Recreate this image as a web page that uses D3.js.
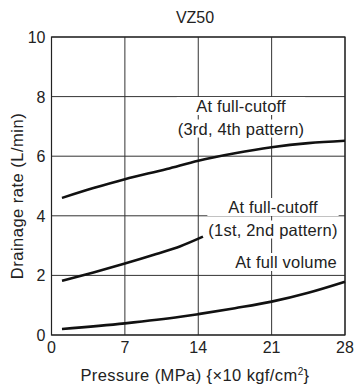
<!DOCTYPE html>
<html lang="en">
<head>
<meta charset="UTF-8">
<title>VZ50 drainage rate</title>
<script src="https://d3js.org/d3.v7.min.js"></script>
<style type="text/css">
    body { margin: 0; background: white; }
    text { font-family: "Liberation Sans", Arial, sans-serif; fill: #222; }
</style>
</head>
<body>
<script type="text/javascript">

// pressure ticks (MPa) and drainage ticks (L/min)
const xTicks = [0, 7, 14, 21, 28];
const yTicks = [0, 2, 4, 6, 8, 10];

// curves
const cutoff34P = [1, 4, 7, 11, 14, 17.5, 21, 24.5, 28];
const cutoff34Q = [4.6, 4.93, 5.23, 5.57, 5.85, 6.1, 6.3, 6.44, 6.52];

const cutoff12P = [1, 4, 7, 10, 12.3, 14.45];
const cutoff12Q = [1.82, 2.1, 2.4, 2.72, 2.98, 3.3];

const fullVolP = [1, 7, 12.3, 14, 17.5, 21, 24.5, 28];
const fullVolQ = [0.2, 0.39, 0.61, 0.7, 0.9, 1.12, 1.42, 1.79];

const width = 355, height = 385;
const margin = {top: 37, right: 10, bottom: 50, left: 51.5};

const svg = d3.select("body").append("svg")
    .attr("width", width)
    .attr("height", height);

const x = d3.scaleLinear().domain([0, 28]).range([margin.left, width - margin.right]);
const y = d3.scaleLinear().domain([0, 10]).range([height - margin.bottom, margin.top]);

// grid
svg.append("g").selectAll("line")
    .data(yTicks)
    .enter().append("line")
    .attr("x1", x(0)).attr("x2", x(28))
    .attr("y1", d => y(d)).attr("y2", d => y(d))
    .attr("stroke", "#333").attr("stroke-width", 1);

svg.append("g").selectAll("line")
    .data(xTicks)
    .enter().append("line")
    .attr("y1", y(0)).attr("y2", y(10))
    .attr("x1", d => x(d)).attr("x2", d => x(d))
    .attr("stroke", "#333").attr("stroke-width", 1);

svg.append("rect")
    .attr("x", x(0)).attr("y", y(10))
    .attr("width", x(28) - x(0)).attr("height", y(0) - y(10))
    .attr("fill", "none").attr("stroke", "#222").attr("stroke-width", 1.2);

// tick labels
svg.append("g").selectAll("text")
    .data(xTicks)
    .enter().append("text")
    .attr("x", d => x(d)).attr("y", y(0) + 18)
    .attr("text-anchor", "middle")
    .style("font-size", "16px")
    .text(d => d);

svg.append("g").selectAll("text")
    .data(yTicks)
    .enter().append("text")
    .attr("x", x(0) - 6).attr("y", d => y(d) + 6)
    .attr("text-anchor", "end")
    .style("font-size", "16px")
    .text(d => d);

// curves
const line = d3.line()
    .x(d => x(d[0]))
    .y(d => y(d[1]))
    .curve(d3.curveMonotoneX);

[[cutoff34P, cutoff34Q], [cutoff12P, cutoff12Q], [fullVolP, fullVolQ]].forEach(function(s) {
    svg.append("path")
        .datum(d3.zip(s[0], s[1]))
        .attr("d", line)
        .attr("fill", "none")
        .attr("stroke", "#111")
        .attr("stroke-width", 2.6);
});

// curve labels: each line sits on a white strip as wide as the widest line
function label(px, py, lines, anchor) {
    const g = svg.append("g");
    const texts = lines.map(function(s, i) {
        return g.append("text")
            .attr("x", px).attr("y", py + i * 22.5)
            .attr("text-anchor", anchor)
            .style("font-size", "16.5px")
            .style("letter-spacing", "0.2px")
            .text(s);
    });
    const boxes = texts.map(t => t.node().getBBox());
    const w = d3.max(boxes, b => b.width);
    boxes.forEach(function(b) {
        const left = anchor === "middle" ? px - w / 2 : (anchor === "end" ? px - w : px);
        g.insert("rect", "text")
            .attr("x", left - 1).attr("y", b.y)
            .attr("width", w + 2).attr("height", b.height)
            .attr("fill", "white");
    });
}
label(241, 112, ["At full-cutoff", "(3rd, 4th pattern)"], "middle");
label(273, 213, ["At full-cutoff", "(1st, 2nd pattern)"], "middle");
label(337, 268, ["At full volume"], "end");

// titles
svg.append("text")
    .attr("x", 195).attr("y", 23)
    .attr("text-anchor", "middle")
    .style("font-size", "16px")
    .text("VZ50");

const xl = svg.append("text")
    .attr("x", 195).attr("y", 381)
    .attr("text-anchor", "middle")
    .style("font-size", "16.5px")
    .style("letter-spacing", "0.4px");
xl.append("tspan").text("Pressure (MPa) {\u00d710 kgf/cm");
xl.append("tspan").attr("dy", -6).style("font-size", "10px").text("2");
xl.append("tspan").attr("dy", 6).text("}");

svg.append("text")
    .attr("transform", "translate(23," + 196 + ") rotate(-90)")
    .attr("text-anchor", "middle")
    .style("font-size", "16.5px")
    .style("letter-spacing", "0.5px")
    .text("Drainage rate (L/min)");

</script>
</body>
</html>
